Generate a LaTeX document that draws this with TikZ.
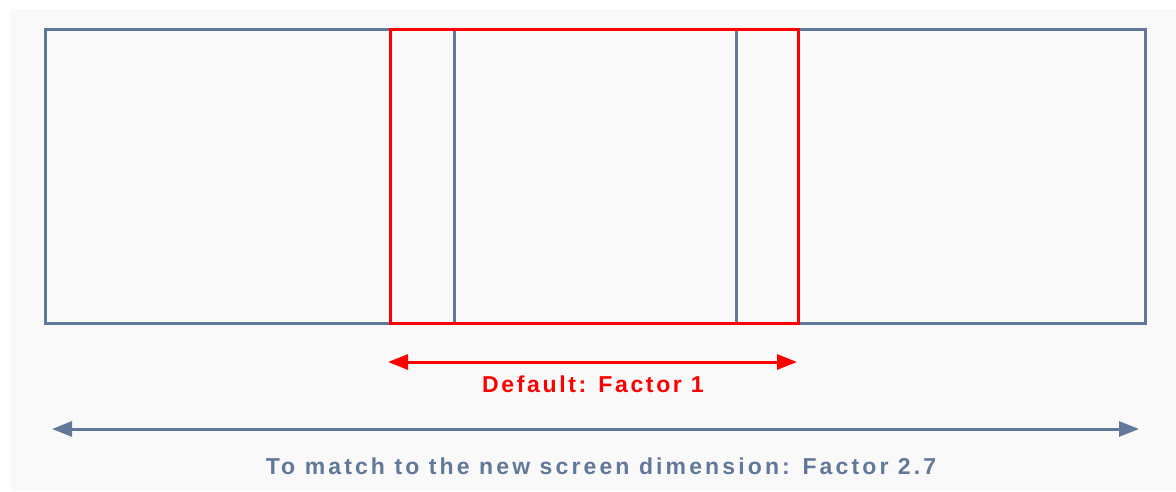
\documentclass[tikz,border=0pt]{standalone}
\usepackage{fontspec}
\setmainfont{Liberation Sans}
\newfontfamily\spacedA[LetterSpace=11.5]{Liberation Sans}
\newfontfamily\spacedB[LetterSpace=13.6]{Liberation Sans}
\usetikzlibrary{arrows.meta}
\definecolor{slate}{HTML}{62789A}
\definecolor{bgg}{HTML}{F9F9F9}
\definecolor{rd}{HTML}{FF0000}
\tikzset{
  graybox/.style={draw=slate,line width=3pt},
  redbox/.style={draw=rd,line width=3pt},
  lbl/.style={font=\bfseries\fontsize{23}{26}\selectfont,inner sep=0pt,anchor=center},
  dim/.style={line width=3pt,{Triangle[length=20pt,width=15pt]}-{Triangle[length=20pt,width=15pt]}}
}
\begin{document}
\begin{tikzpicture}[x=1pt,y=-1pt]
\useasboundingbox (0,0) rectangle (1176,491);
\fill[white] (0,0) rectangle (1176,491);
\fill[bgg] (10,9) rectangle (1176,491);
% outer gray frame
\node[graybox,minimum width=1100pt,minimum height=294pt,inner sep=0pt] (outer) at (595,176) {};
\coordinate (v1t) at (454,29); \coordinate (v1b) at (454,323);
\coordinate (v2t) at (736,29); \coordinate (v2b) at (736,323);
\draw[graybox] (v1t) -- (v1b);
\draw[graybox] (v2t) -- (v2b);
% red frame
\node[redbox,minimum width=408pt,minimum height=294pt,inner sep=0pt] (red) at (594,176) {};
% red arrow
\coordinate (ra) at (388,362); \coordinate (rb) at (797,362);
\draw[dim,draw=rd,fill=rd] (ra) -- (rb);
\node[lbl,text=rd] (rl) at (593,384) {\spacedA\bfseries Default: Factor 1};
% gray arrow
\coordinate (ga) at (52,429); \coordinate (gb) at (1139,429);
\draw[dim,draw=slate,fill=slate] (ga) -- (gb);
\node[lbl,text=slate] (gl) at (601,466) {\spacedB\bfseries To match to the new screen dimension: Factor 2.7};
\end{tikzpicture}
\end{document}
